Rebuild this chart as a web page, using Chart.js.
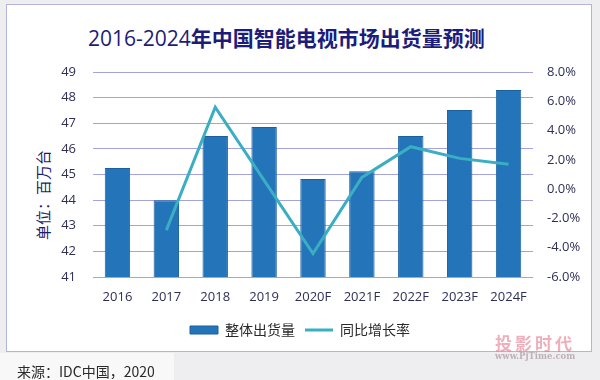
<!DOCTYPE html>
<html>
<head>
<meta charset="utf-8">
<script src="https://cdn.jsdelivr.net/npm/chart.js@4/dist/chart.umd.min.js"></script>
<style>
  html, body { margin: 0; padding: 0; }
  body { width: 600px; height: 380px; position: relative; overflow: hidden; background: #eeeef1; font-family: "Open Sans", "Noto Sans CJK SC", sans-serif; }
  #frame { position: absolute; left: 6px; top: 4px; width: 584px; height: 346px; border: 1.5px solid #b3b3de; background: #fff; }
  #srcbg { position: absolute; left: 0; top: 353px; width: 174px; height: 27px; background: #f8f8f8; }
  #wrap { position: absolute; left: 0; top: 0; width: 600px; height: 380px; }
  #title { position: absolute; left: 88px; top: 23px; white-space: nowrap; font-size: 21px; line-height: 28px; color: #1c1c7a; }
  #title .d { font-family: "Open Sans", sans-serif; font-weight: 400; }
  #title .c { font-family: "Noto Sans CJK SC", sans-serif; font-weight: 700; }
  #ytitle { position: absolute; left: 42px; top: 195px; transform: translate(-50%, -50%) rotate(-90deg); white-space: nowrap; font-family: "Noto Sans CJK SC", sans-serif; font-size: 15px; color: #1c1c6c; }
  #source { position: absolute; left: 17px; top: 361px; white-space: nowrap; font-family: "Noto Sans CJK SC", sans-serif; font-size: 14px; line-height: 20px; color: #2a2a2a; }
  #wm1 { position: absolute; left: 495px; top: 330px; white-space: nowrap; font-family: "Noto Sans CJK SC", sans-serif; font-weight: 700; font-size: 17px; letter-spacing: 3px; color: rgba(226,120,140,0.6); }
  #wm2 { position: absolute; left: 495px; top: 351px; white-space: nowrap; font-family: "DejaVu Serif", serif; font-weight: 700; font-size: 8.5px; color: rgba(170,150,160,0.7); }
</style>
</head>
<body>
<div id="frame"></div>
<div id="srcbg"></div>
<div id="title"><span class="d">2016-2024</span><span class="c">年中国智能电视市场出货量预测</span></div>
<div id="ytitle">单位：百万台</div>
<div id="wrap"><canvas id="c" width="600" height="380"></canvas></div>
<div id="source">来源：IDC中国，2020</div>
<div id="wm1">投影时代</div>
<div id="wm2">www.PjTime.com</div>
<script>
const categories = ['2016', '2017', '2018', '2019', '2020F', '2021F', '2022F', '2023F', '2024F'];
const shipments = [45.25, 44.0, 46.5, 46.85, 44.82, 45.13, 46.5, 47.52, 48.3];
const growth = [null, -2.8, 5.6, 0.6, -4.4, 0.8, 2.9, 2.1, 1.7];
const seriesNames = ['整体出货量', '同比增长率'];

const tickColor = '#2f2f55';
const gridColor = '#a3a3dd';

new Chart(document.getElementById('c'), {
  type: 'bar',
  data: {
    labels: categories,
    datasets: [
      {
        type: 'bar',
        label: seriesNames[0],
        data: shipments,
        backgroundColor: '#2474b9',
        borderColor: '#1b5f9f',
        borderWidth: 1,
        categoryPercentage: 1,
        barPercentage: 0.52,
        yAxisID: 'y',
        order: 2,
        pointStyle: 'rect'
      },
      {
        type: 'line',
        label: seriesNames[1],
        data: growth,
        borderColor: '#3aaec3',
        backgroundColor: '#3aaec3',
        borderWidth: 3,
        pointRadius: 0,
        pointHoverRadius: 0,
        tension: 0,
        yAxisID: 'y1',
        order: 1,
        pointStyle: 'line'
      }
    ]
  },
  options: {
    responsive: false,
    animation: false,
    events: [],
    layout: { padding: { top: 72, left: 0, right: 0, bottom: 33 } },
    plugins: {
      tooltip: { enabled: false },
      title: { display: false },
      legend: {
        display: true,
        position: 'bottom',
        labels: {
          usePointStyle: true,
          pointStyleWidth: 28,
          boxHeight: 8,
          padding: 10,
          color: '#2a2a2a',
          font: { family: '"Noto Sans CJK SC", sans-serif', size: 14 },
          sort: (a, b) => a.datasetIndex - b.datasetIndex
        }
      }
    },
    scales: {
      x: {
        grid: { display: false, drawTicks: false },
        border: { display: false },
        ticks: { color: tickColor, padding: 12, font: { family: '"Open Sans", sans-serif', size: 13 }, maxRotation: 0 },
        afterFit: s => { s.height = 36; }
      },
      y: {
        position: 'left',
        min: 41, max: 49,
        grid: { color: gridColor, lineWidth: 1, drawTicks: false },
        border: { display: false },
        ticks: { stepSize: 1, color: tickColor, padding: 17, font: { family: '"Open Sans", sans-serif', size: 13 } },
        afterFit: s => { s.width = 93; }
      },
      y1: {
        position: 'right',
        min: -6, max: 8,
        grid: { display: false, drawTicks: false },
        border: { display: false },
        ticks: { stepSize: 2, color: tickColor, padding: 14, font: { family: '"Open Sans", sans-serif', size: 13 }, callback: v => v.toFixed(1) + '%' },
        afterFit: s => { s.width = 67; }
      }
    }
  }
});
</script>
</body>
</html>
